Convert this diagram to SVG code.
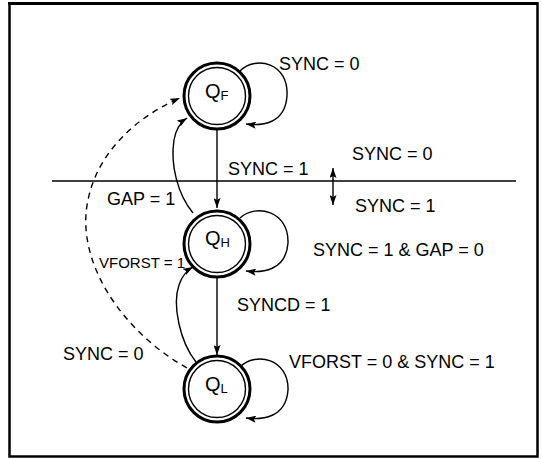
<svg xmlns="http://www.w3.org/2000/svg" width="542" height="459" viewBox="0 0 542 459">
<style>
.lbl{font-family:"Liberation Sans",Arial,sans-serif;font-size:18px;fill:#000}
.sm{font-size:15px}
.q{font-family:"Liberation Sans",Arial,sans-serif;font-size:20px;fill:#000}
.sub{font-size:13px}
.outer{fill:#fff;stroke:#000;stroke-width:3}
.inner{fill:none;stroke:#000;stroke-width:1.4}
.edge{fill:none;stroke:#000;stroke-width:1.4}
.dash{stroke-dasharray:6 5}
</style>
<defs>
<marker id="arr" markerUnits="userSpaceOnUse" markerWidth="10" markerHeight="7" refX="10" refY="3.5" orient="auto-start-reverse">
<path d="M0,0 L10,3.5 L0,7 L2,3.5 z" fill="#000"/>
</marker>
</defs>
<rect x="9.5" y="3.5" width="528" height="453" fill="#fff" stroke="#000" stroke-width="2.5"/>
<rect x="8" y="2" width="530" height="3" fill="#000"/>
<line x1="52" y1="181" x2="516" y2="181" stroke="#000" stroke-width="1.5"/>
<g id="connectors">
<path class="edge" d="M240,71 C256,55 289,63 287,96 C285,124 262,126 246,124" marker-end="url(#arr)"/>
<path class="edge" d="M240,218 C256,203 289,211 288,243 C286,271 262,273 246,271" marker-end="url(#arr)"/>
<path class="edge" d="M240,367 C256,351 289,359 288,390 C286,418 262,420 246,418" marker-end="url(#arr)"/>
<path class="edge" d="M217,130 L217,208" marker-end="url(#arr)"/>
<path class="edge" d="M217,278 L217,355" marker-end="url(#arr)"/>
<path class="edge" d="M193,213 C178,195 170,165 174,140 C176,128 181,122 187,118" marker-end="url(#arr)"/>
<path class="edge" d="M196,362 C180,342 172,305 179,285 C182,276 186,271 193,267" marker-end="url(#arr)"/>
<path class="edge dash" d="M187,368 C120,330 75,260 88,200 C98,150 140,115 180,98" marker-end="url(#arr)"/>
<path class="edge" d="M333,168 L333,205" marker-start="url(#arr)" marker-end="url(#arr)"/>
</g>
<g id="node-QF">
<circle class="outer" cx="217" cy="96" r="33"/>
<circle class="inner" cx="217" cy="96" r="28.5"/>
<text class="q" x="205" y="98">Q<tspan class="sub" dy="2">F</tspan></text>
</g>
<g id="node-QH">
<circle class="outer" cx="217" cy="244" r="33"/>
<circle class="inner" cx="217" cy="244" r="28.5"/>
<text class="q" x="205" y="245">Q<tspan class="sub" dy="2">H</tspan></text>
</g>
<g id="node-QL">
<circle class="outer" cx="217" cy="389" r="33"/>
<circle class="inner" cx="217" cy="389" r="28.5"/>
<text class="q" x="205" y="391">Q<tspan class="sub" dy="2">L</tspan></text>
</g>
<g id="labels">
<text class="lbl" x="279" y="70">SYNC = 0</text>
<text class="lbl" x="228" y="175">SYNC = 1</text>
<text class="lbl" x="352" y="160">SYNC = 0</text>
<text class="lbl" x="355" y="212">SYNC = 1</text>
<text class="lbl" x="107" y="205">GAP = 1</text>
<text class="lbl" x="313" y="256">SYNC = 1 &amp; GAP = 0</text>
<text class="lbl sm" x="99" y="268">VFORST = 1</text>
<text class="lbl" x="237" y="311">SYNCD = 1</text>
<text class="lbl" x="63" y="360">SYNC = 0</text>
<text class="lbl" x="289" y="368">VFORST = 0 &amp; SYNC = 1</text>
</g>
</svg>
